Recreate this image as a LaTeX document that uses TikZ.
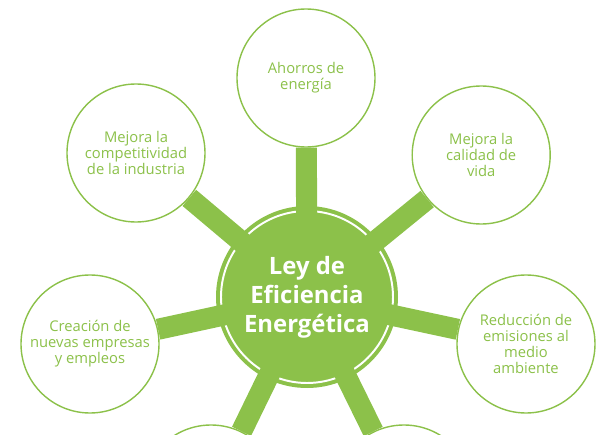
\documentclass[tikz,border=0pt]{standalone}
\usepackage{fontspec}
\setmainfont{Open Sans}
\usepackage{tikz}
\usepackage{xcolor}
\definecolor{leafgreen}{RGB}{140,193,74}

\begin{document}
\begin{tikzpicture}[
    core/.style={circle,fill=leafgreen,minimum size=4.55cm,inner sep=0pt},
    coretext/.style={align=center,text=white,font=\fontsize{17}{20.6}\selectfont\bfseries},
    goal/.style={circle,draw=leafgreen,line width=1pt,fill=white,minimum size=3.45cm,inner sep=0pt,
      align=center,text=leafgreen,font=\fontsize{10.5}{11.3}\selectfont},
    spoke/.style={line width=15pt,leafgreen},
    ring/.style={white,line width=1.4pt}
  ]
    \useasboundingbox (0,0) rectangle (15,10.875);
    \node[core] (core) at (7.675,3.45) {};
    \node[goal] (ahorro) at (7.65,8.925) {Ahorros de\\energía};
    \node[goal] (compet) at (3.4,7.05) {Mejora la\\competitividad\\de la industria};
    \node[goal] (calidad) at (12.03,7.0) {Mejora la\\calidad de\\vida};
    \node[goal] (empleo) at (2.25,2.275) {Creación de\\nuevas empresas\\y empleos};
    \node[goal] (emision) at (13.15,2.275) {Reducción de\\emisiones al\\medio\\ambiente};
    \node[goal] (bajoizq) at (5.275,-1.475) {};
    \node[goal] (bajoder) at (10.1,-1.475) {};
    \draw[ring] (core.center) circle (2.15);
    \foreach \t in {ahorro,compet,calidad,empleo,emision,bajoizq,bajoder} {\draw[spoke] (core.center) -- (\t);}
    \node[coretext] (titulo) at (core.center) {Ley de\\Eficiencia\\Energética};
  \end{tikzpicture}
\end{document}
